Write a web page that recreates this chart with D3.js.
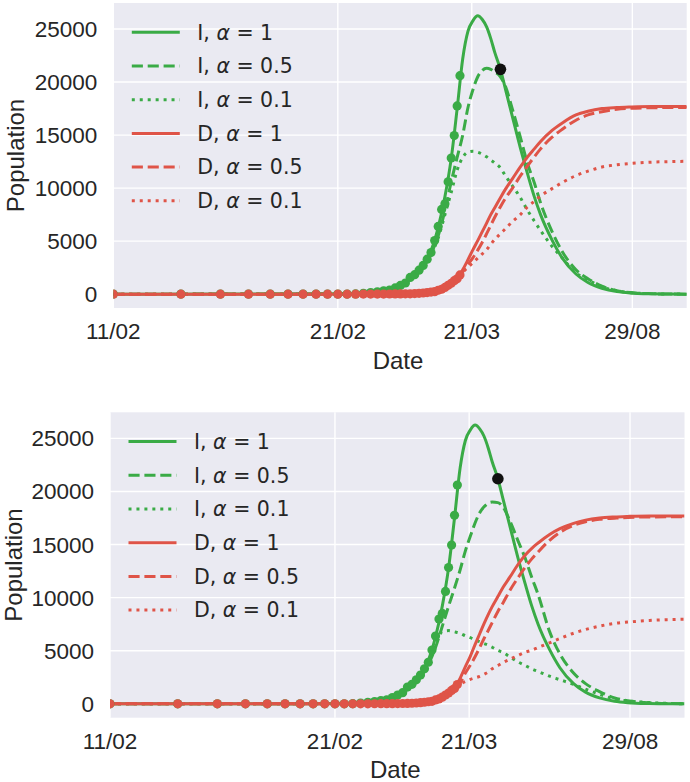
<!DOCTYPE html>
<html>
<head>
<meta charset="UTF-8">
<script src="https://d3js.org/d3.v7.min.js"></script>
<style>
body { margin: 0; background: #fff; }
text { font-family: "Liberation Sans", Arial, sans-serif; fill: #262626; }
.legend text { font-family: "DejaVu Sans", sans-serif; }
</style>
</head>
<body>
<svg width="690" height="782"></svg>
<script>
// day index (11/02 = day 1), x axis is logarithmic in this index
var days = [1, 5, 10, 13, 16, 18, 20, 22, 24, 26, 28, 30, 32, 34, 36, 38, 40, 42, 44, 46, 48, 50,
            53, 56, 60, 65, 70, 75, 80, 90, 100, 115, 130, 150, 175, 200, 250, 300, 358];

// I, alpha = 1 (same in both panels)
var iAlpha1 = [0, 5, 40, 100, 280, 560, 1100, 1800, 2750, 4100, 6300, 9200, 12800, 17500, 22200, 24800, 25800, 26250, 25900, 25200, 24100, 22800,
               21200, 19200, 16700, 13800, 11350, 9200, 7500, 5100, 3400, 1900, 1100, 560, 240, 110, 30, 10, 0];

// top panel
var dAlpha1Top = [0, 0, 1, 3, 10, 18, 30, 55, 110, 200, 370, 640, 1000, 1450, 2300, 3250, 4200, 5050, 5900, 6700, 7500, 8150,
                  9100, 9950, 10900, 12000, 12950, 13700, 14400, 15450, 16150, 16900, 17250, 17500, 17600, 17650, 17700, 17700, 17700];
var iAlpha05Top = [0, 5, 40, 100, 250, 550, 1050, 1700, 2550, 3800, 5500, 7900, 10600, 12900, 15000, 17600, 19300, 20500, 21100, 21300, 21200, 20950,
                   20500, 19500, 17400, 14800, 12300, 10500, 8600, 5900, 4000, 2300, 1450, 750, 330, 150, 40, 10, 0];
var iAlpha01Top = [0, 5, 40, 100, 250, 550, 1050, 1700, 2550, 3700, 5300, 7500, 9600, 11700, 12900, 13400, 13470, 13380, 13200, 12950, 12650, 12380,
                   11900, 11100, 10200, 9100, 7900, 6900, 6000, 4500, 3400, 2000, 1350, 700, 330, 150, 40, 10, 0];
var dAlpha05Top = [0, 0, 1, 3, 10, 18, 30, 55, 110, 200, 370, 640, 1000, 1450, 2100, 2800, 3450, 4150, 4900, 5700, 6500, 7250,
                   8250, 9100, 10000, 11150, 12100, 12950, 13700, 14800, 15550, 16400, 16900, 17200, 17430, 17520, 17580, 17600, 17600];
var dAlpha01Top = [0, 0, 1, 3, 10, 18, 30, 55, 110, 200, 370, 640, 1000, 1450, 2050, 2550, 2950, 3400, 3800, 4200, 4700, 5150,
                   5700, 6200, 6850, 7500, 8250, 8750, 9250, 9950, 10530, 11180, 11600, 11990, 12200, 12320, 12450, 12500, 12530];

// bottom panel
var dAlpha1Bottom = [0, 0, 1, 3, 10, 18, 30, 55, 110, 200, 370, 640, 1000, 1450, 2400, 3500, 4500, 5600, 6600, 7550, 8400, 9150,
                     10100, 11000, 11950, 13100, 14000, 14650, 15150, 15950, 16500, 17000, 17300, 17500, 17600, 17650, 17700, 17700, 17700];
var iAlpha05Bottom = [0, 5, 40, 100, 250, 550, 1050, 1700, 2550, 3700, 5300, 7300, 9200, 10900, 12600, 14400, 15800, 17050, 18000, 18550, 18900, 19000,
                      18950, 18500, 17200, 15400, 13750, 11900, 10300, 6800, 4700, 2900, 1900, 1150, 550, 300, 100, 30, 10];
var iAlpha01Bottom = [0, 5, 40, 100, 250, 550, 1050, 1700, 2550, 3900, 5700, 6800, 6900, 6780, 6650, 6400, 6230, 6030, 5850, 5680, 5520, 5330,
                      5030, 4820, 4420, 3960, 3620, 3290, 3050, 2600, 2270, 1830, 1380, 900, 450, 280, 120, 40, 10];
var dAlpha05Bottom = [0, 0, 1, 3, 10, 18, 30, 55, 110, 200, 370, 640, 1000, 1450, 1950, 2900, 3650, 4450, 5300, 6150, 6900, 7650,
                      8700, 9550, 10700, 11850, 12850, 13650, 14300, 15400, 16150, 16800, 17150, 17380, 17480, 17550, 17600, 17610, 17610];
var dAlpha01Bottom = [0, 0, 1, 3, 10, 18, 30, 55, 110, 200, 370, 640, 1000, 1450, 1850, 2100, 2300, 2450, 2580, 2780, 3000, 3300,
                      3600, 3900, 4200, 4550, 4850, 5050, 5300, 5750, 6150, 6650, 7000, 7320, 7580, 7700, 7850, 7930, 7970];

// observed data (dots)
var obsDays = [1, 2, 3, 4, 5, 6, 7, 8, 9, 10, 11, 12, 13, 14, 15, 16, 17, 18, 19, 20, 21, 22, 23, 24, 25, 26, 27, 28, 29, 30, 31, 32, 33, 34, 35];
var obsI = [3, 3, 3, 3, 3, 3, 3, 3, 3, 3, 3, 17, 76, 150, 221, 311, 385, 588, 821, 1049, 1577, 1835, 2263, 2706, 3296, 3916, 5061, 6387, 7985, 8514,
            10590, 12839, 14955, 17750, 20603];
var obsD = [0, 0, 0, 0, 0, 0, 0, 0, 0, 0, 0, 1, 2, 3, 7, 10, 12, 17, 21, 29, 34, 52, 79, 107, 148, 197, 233, 366, 463, 631,
            827, 1016, 1266, 1441, 1809];

var markerDay = 53, markerValue = 21200;

var tickDays = [1, 10, 39.5, 205];
var tickLabels = ["11/02", "21/02", "21/03", "29/08"];
var yTicks = [0, 5000, 10000, 15000, 20000, 25000];

var legendNames = ["I", "I", "I", "D", "D", "D"];
var legendAlphas = ["1", "0.5", "0.1", "1", "0.5", "0.1"];

var green = "#3aab46", red = "#df5448";
var dashes = [null, "11.1,4.8", "3,4.95"];

var svg = d3.select("svg");

var panels = [
  {id: "top", left: 113.3, right: 686.7, top: 3, bottom: 308, ylab: 24,
   series: [iAlpha1, iAlpha05Top, iAlpha01Top, dAlpha1Top, dAlpha05Top, dAlpha01Top]},
  {id: "bot", left: 110, right: 684.5, top: 412.3, bottom: 717.7, ylab: 21.5,
   series: [iAlpha1, iAlpha05Bottom, iAlpha01Bottom, dAlpha1Bottom, dAlpha05Bottom, dAlpha01Bottom]}
];

panels.forEach(function(p) {
  var x = d3.scaleLog().domain([1, 358]).range([p.left, p.right]);
  var y = d3.scaleLinear().domain([-1307, 27457]).range([p.bottom, p.top]);
  var g = svg.append("g");

  g.append("clipPath").attr("id", "clip-" + p.id)
    .append("rect").attr("x", p.left).attr("y", p.top)
    .attr("width", p.right - p.left).attr("height", p.bottom - p.top);

  g.append("rect").attr("x", p.left).attr("y", p.top)
    .attr("width", p.right - p.left).attr("height", p.bottom - p.top)
    .attr("fill", "#eaeaf2");

  // grid
  g.selectAll(".hgrid").data(yTicks).enter().append("line")
    .attr("x1", p.left).attr("x2", p.right)
    .attr("y1", function(d) { return y(d); }).attr("y2", function(d) { return y(d); })
    .attr("stroke", "#fff").attr("stroke-width", 1.4);
  g.selectAll(".vgrid").data(tickDays).enter().append("line")
    .attr("y1", p.top).attr("y2", p.bottom)
    .attr("x1", function(d) { return x(d); }).attr("x2", function(d) { return x(d); })
    .attr("stroke", "#fff").attr("stroke-width", 1.4);

  // tick labels
  g.selectAll(".ylab").data(yTicks).enter().append("text")
    .attr("x", p.left - 16).attr("y", function(d) { return y(d) + 8; })
    .attr("text-anchor", "end").style("font-size", "22.5px")
    .text(function(d) { return d; });
  g.selectAll(".xlab").data(tickDays).enter().append("text")
    .attr("x", function(d) { return x(d); }).attr("y", p.bottom + 31)
    .attr("text-anchor", "middle").style("font-size", "22.5px")
    .text(function(d, i) { return tickLabels[i]; });

  g.append("text").attr("x", (p.left + p.right) / 2 - 2).attr("y", p.bottom + 60.5)
    .attr("text-anchor", "middle").style("font-size", "24px").text("Date");
  g.append("text")
    .attr("transform", "translate(" + p.ylab + "," + (p.top + p.bottom) / 2 + ") rotate(-90)")
    .attr("text-anchor", "middle").style("font-size", "24px").text("Population");

  var plot = g.append("g").attr("clip-path", "url(#clip-" + p.id + ")");
  var line = d3.line()
    .x(function(d) { return x(d[0]); })
    .y(function(d) { return y(d[1]); })
    .curve(d3.curveMonotoneX);

  p.series.forEach(function(s, k) {
    plot.append("path")
      .attr("d", line(d3.zip(days, s)))
      .attr("fill", "none")
      .attr("stroke", k < 3 ? green : red)
      .attr("stroke-width", 3)
      .attr("stroke-dasharray", dashes[k % 3]);
  });

  plot.selectAll(".dotI").data(d3.zip(obsDays, obsI)).enter().append("circle")
    .attr("cx", function(d) { return x(d[0]); }).attr("cy", function(d) { return y(d[1]); })
    .attr("r", 4.6).attr("fill", green);
  plot.selectAll(".dotD").data(d3.zip(obsDays, obsD)).enter().append("circle")
    .attr("cx", function(d) { return x(d[0]); }).attr("cy", function(d) { return y(d[1]); })
    .attr("r", 4.6).attr("fill", red);
  plot.append("circle").attr("cx", x(markerDay)).attr("cy", y(markerValue))
    .attr("r", 5.8).attr("fill", "#111");

  // legend
  var leg = g.append("g").attr("class", "legend");
  legendNames.forEach(function(name, k) {
    var ly = p.top + 29.3 + k * 33.7;
    leg.append("line")
      .attr("x1", p.left + 18.5).attr("x2", p.left + 66.5)
      .attr("y1", ly).attr("y2", ly)
      .attr("stroke", k < 3 ? green : red).attr("stroke-width", 3)
      .attr("stroke-dasharray", dashes[k % 3]);
    var t = leg.append("text").attr("x", p.left + 84).attr("y", ly + 7.3)
      .style("font-size", "20.5px");
    t.append("tspan").text(name + ", ");
    t.append("tspan").style("font-style", "italic").text("α");
    t.append("tspan").text(" = " + legendAlphas[k]);
  });
});
</script>
</body>
</html>
